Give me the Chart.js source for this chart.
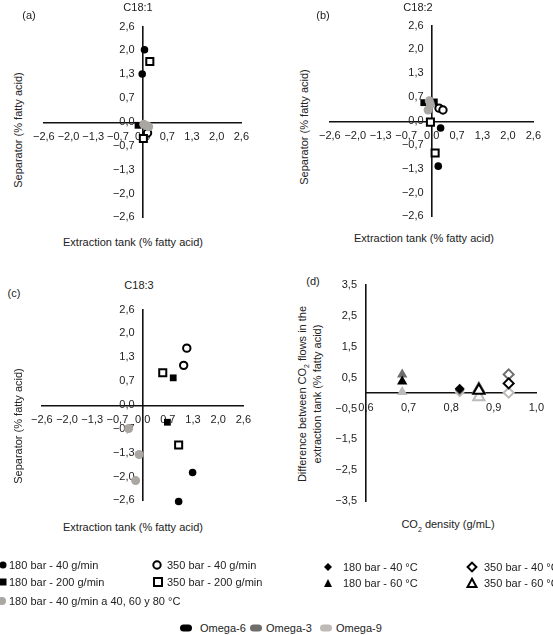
<!DOCTYPE html>
<html>
<head>
<meta charset="utf-8">
<script src="https://cdn.jsdelivr.net/npm/chart.js@4.4.1/dist/chart.umd.min.js"></script>
<style>
body { margin: 0; background: #fff; font-family: "Liberation Sans", Arial, sans-serif; color: #222; }
#page { position: relative; width: 553px; height: 635px; overflow: hidden; }
canvas { position: absolute; }
.c { position: absolute; font-size: 11px; white-space: nowrap; line-height: 11px; transform: translate(-50%, -50%); }
.r { position: absolute; font-size: 11px; white-space: nowrap; line-height: 11px; text-align: center; transform: translate(-50%, -50%) rotate(-90deg); }
.m { position: absolute; transform: translate(-50%, -50%); line-height: 0; }
.lt { position: absolute; font-size: 11px; white-space: nowrap; transform: translateY(-50%); }
.sw { position: absolute; width: 12px; height: 7px; border-radius: 3.5px; transform: translateY(-50%); }
</style>
</head>
<body>
<div id="page">
  <canvas id="ca" width="232" height="220" style="left:25px;top:12px"></canvas>
  <canvas id="cb" width="238" height="220" style="left:311px;top:11px"></canvas>
  <canvas id="cc" width="236" height="220" style="left:23px;top:295px"></canvas>
  <canvas id="cd" width="220" height="248" style="left:332px;top:269px"></canvas>

  <div class="c" style="left:138px;top:7px">C18:1</div>
  <div class="c" style="left:29px;top:15px">(a)</div>
  <div class="r" style="left:18px;top:130px">Separator (% fatty acid)</div>
  <div class="c" style="left:133px;top:242px">Extraction tank (% fatty acid)</div>

  <div class="c" style="left:418px;top:7px">C18:2</div>
  <div class="c" style="left:323px;top:15px">(b)</div>
  <div class="r" style="left:304px;top:127px">Separator (% fatty acid)</div>
  <div class="c" style="left:424px;top:238px">Extraction tank (% fatty acid)</div>

  <div class="c" style="left:139px;top:285px">C18:3</div>
  <div class="c" style="left:14px;top:293px">(c)</div>
  <div class="r" style="left:18px;top:426px">Separator (% fatty acid)</div>
  <div class="c" style="left:133px;top:527px">Extraction tank (% fatty acid)</div>

  <div class="c" style="left:313px;top:281px">(d)</div>
  <div class="r" style="left:310px;top:394px">Difference between CO<sub style="font-size:7px">2</sub> flows in the<br>extraction tank (% fatty acid)</div>
  <div class="c" style="left:448px;top:527px">CO<sub style="font-size:7px">2</sub> density (g/mL)</div>

  <!-- legend, left block -->
  <div class="m" style="left:3px;top:565px"><svg width="9" height="9"><circle cx="4.5" cy="4.5" r="3.5" fill="#000"/></svg></div>
  <div class="lt" style="left:9px;top:565px">180 bar - 40 g/min</div>
  <div class="m" style="left:157px;top:565px"><svg width="11" height="11"><circle cx="5.5" cy="5.5" r="3.7" fill="#fff" stroke="#000" stroke-width="2"/></svg></div>
  <div class="lt" style="left:167px;top:565px">350 bar - 40 g/min</div>
  <div class="m" style="left:3px;top:582px"><svg width="9" height="9"><rect x="1" y="1" width="7" height="7" fill="#000"/></svg></div>
  <div class="lt" style="left:9px;top:582px">180 bar - 200 g/min</div>
  <div class="m" style="left:158px;top:582px"><svg width="11" height="11"><rect x="1.5" y="1.5" width="8" height="8" fill="#fff" stroke="#000" stroke-width="2"/></svg></div>
  <div class="lt" style="left:167px;top:582px">350 bar - 200 g/min</div>
  <div class="m" style="left:2px;top:601px"><svg width="9" height="9"><circle cx="4.5" cy="4.5" r="4" fill="#aaa6a2"/></svg></div>
  <div class="lt" style="left:9px;top:601px">180 bar - 40 g/min a 40, 60 y 80 °C</div>

  <!-- legend, right block -->
  <div class="m" style="left:328px;top:567px"><svg width="10" height="10"><polygon points="5,1 9,5 5,9 1,5" fill="#000"/></svg></div>
  <div class="lt" style="left:343px;top:567px">180 bar - 40 °C</div>
  <div class="m" style="left:472px;top:567px"><svg width="12" height="12"><polygon points="6,1.6 10.4,6 6,10.4 1.6,6" fill="#fff" stroke="#000" stroke-width="2"/></svg></div>
  <div class="lt" style="left:484px;top:567px">350 bar - 40 °C</div>
  <div class="m" style="left:328px;top:583px"><svg width="10" height="10"><polygon points="5,1 9,9 1,9" fill="#000"/></svg></div>
  <div class="lt" style="left:343px;top:583px">180 bar - 60 °C</div>
  <div class="m" style="left:472px;top:583px"><svg width="12" height="12"><polygon points="6,1.8 10.5,10 1.5,10" fill="#fff" stroke="#000" stroke-width="2"/></svg></div>
  <div class="lt" style="left:484px;top:583px">350 bar - 60 °C</div>

  <!-- omega legend -->
  <div class="sw" style="left:180px;top:628px;background:#000"></div>
  <div class="lt" style="left:200px;top:628px">Omega-6</div>
  <div class="sw" style="left:250px;top:628px;background:#6f6d6b"></div>
  <div class="lt" style="left:266px;top:628px">Omega-3</div>
  <div class="sw" style="left:320px;top:628px;background:#bdbab7"></div>
  <div class="lt" style="left:336px;top:628px">Omega-9</div>
</div>

<script>
// tick values and labels
const quadTicks = [-2.6, -1.95, -1.3, -0.65, 0, 0.65, 1.3, 1.95, 2.6];
const quadLabels = ['−2,6', '−2,0', '−1,3', '−0,7', '0,0', '0,7', '1,3', '2,0', '2,6'];
const densTicks = [0.6, 0.7, 0.8, 0.9, 1.0];
const densLabels = ['0,6', '0,7', '0,8', '0,9', '1,0'];
const diffTicks = [-3.5, -2.5, -1.5, -0.5, 0.5, 1.5, 2.5, 3.5];
const diffLabels = ['−3,5', '−2,5', '−1,5', '−0,5', '0,5', '1,5', '2,5', '3,5'];

// (a) C18:1  [extraction tank, separator]
const a180_40 = [[0.05, 1.97], [-0.01, 1.31]];
const a180_200 = [[-0.12, -0.09]];
const a350_40 = [[0.13, -0.3]];
const a350_200 = [[0.19, 1.65], [0.02, -0.45]];
const aTemps = [[0.03, -0.06], [0.11, -0.1], [0.16, -0.13]];

// (b) C18:2
const b180_40 = [[0.23, -0.19], [0.17, -1.23]];
const b180_200 = [[-0.2, 0.5], [0.07, 0.52]];
const b350_40 = [[0.19, 0.35], [0.29, 0.3]];
const b350_200 = [[-0.03, -0.03], [0.09, -0.87]];
const bTemps = [[-0.06, 0.55], [-0.09, 0.3], [-0.03, 0.45]];

// (c) C18:3
const c180_40 = [[1.29, -1.84], [0.93, -2.63]];
const c180_200 = [[0.79, 0.74], [0.64, -0.47]];
const c350_40 = [[1.14, 1.55], [1.06, 1.08]];
const c350_200 = [[0.52, 0.88], [0.93, -1.09]];
const cTemps = [[-0.36, -0.64], [-0.09, -1.35], [-0.18, -2.06]];

// (d) CO2 density vs difference, values per omega: [Omega-6, Omega-3, Omega-9]
const dens180_40 = 0.82;
const dens180_60 = 0.685;
const dens350_40 = 0.935;
const dens350_60 = 0.865;
const d180_40 = [0.14, 0.1, 0.02];
const d180_60 = [0.37, 0.6, 0.03];
const d350_40 = [0.31, 0.6, 0.01];
const d350_60 = [0.08, 0.12, -0.13];
const omegaColors = ['#000000', '#6f6d6b', '#bdbab7'];

const tickFont = { family: 'Liberation Sans', size: 11 };

function axis(min, max, at, ticks, labels) {
    return {
        type: 'linear',
        min: min,
        max: max,
        position: at,
        afterBuildTicks: (s) => { s.ticks = ticks.map(v => ({ value: v })); },
        ticks: {
            autoSkip: false, maxRotation: 0, minRotation: 0, padding: 8,
            color: '#222', font: tickFont,
            callback: (v) => labels[ticks.indexOf(v)]
        },
        grid: { display: false, drawTicks: false },
        border: { display: true, color: '#111', width: 1.6 }
    };
}

function pts(arr) {
    return arr.map(p => ({ x: p[0], y: p[1] }));
}

function filled(data, style, r, color) {
    return { data: data, clip: false, pointStyle: style, pointRadius: r, pointHoverRadius: r,
        pointBackgroundColor: color, pointBorderColor: color, pointBorderWidth: 0 };
}

function open(data, style, r, color) {
    return { data: data, clip: false, pointStyle: style, pointRadius: r, pointHoverRadius: r,
        pointBackgroundColor: '#fff', pointBorderColor: color, pointBorderWidth: 2 };
}

function quadChart(id, s180_40, s180_200, s350_40, s350_200, temps) {
    new Chart(document.getElementById(id), {
        type: 'scatter',
        data: {
            datasets: [
                filled(pts(temps), 'circle', 4.5, '#aaa6a2'),
                open(pts(s350_200), 'rect', 5, '#000'),
                open(pts(s350_40), 'circle', 3.7, '#000'),
                filled(pts(s180_200), 'rect', 4.8, '#000'),
                filled(pts(s180_40), 'circle', 3.8, '#000')
            ]
        },
        options: {
            responsive: false,
            animation: false,
            layout: { padding: 12 },
            plugins: { legend: { display: false }, tooltip: { enabled: false } },
            scales: {
                // both axes cross at 0, the middle of the symmetric range
                x: axis(-2.6, 2.6, 'center', quadTicks, quadLabels),
                y: axis(-2.6, 2.6, 'center', quadTicks, quadLabels)
            }
        }
    });
}

quadChart('ca', a180_40, a180_200, a350_40, a350_200, aTemps);
quadChart('cb', b180_40, b180_200, b350_40, b350_200, bTemps);
quadChart('cc', c180_40, c180_200, c350_40, c350_200, cTemps);

const dSets = [];
for (let i = 0; i < 3; i++) {
    const col = omegaColors[i];
    dSets.push(filled([{ x: dens180_60, y: d180_60[i] }], 'triangle', 6, col));
    dSets.push(filled([{ x: dens180_40, y: d180_40[i] }], 'rectRot', 5, col));
    dSets.push(open([{ x: dens350_60, y: d350_60[i] }], 'triangle', 6.5, col));
    dSets.push(open([{ x: dens350_40, y: d350_40[i] }], 'rectRot', 5, col));
}

const dY = axis(-3.5, 3.5, 'left', diffTicks, diffLabels);
dY.ticks.padding = 9;
dY.afterFit = (s) => { s.width = 30; };

new Chart(document.getElementById('cd'), {
    type: 'scatter',
    data: { datasets: dSets },
    options: {
        responsive: false,
        animation: false,
        layout: { padding: { left: 4, right: 14, top: 12, bottom: 12 } },
        plugins: { legend: { display: false }, tooltip: { enabled: false } },
        scales: {
            x: axis(0.6, 1.0, { y: 0 }, densTicks, densLabels),
            y: dY
        }
    }
});
</script>
</body>
</html>
